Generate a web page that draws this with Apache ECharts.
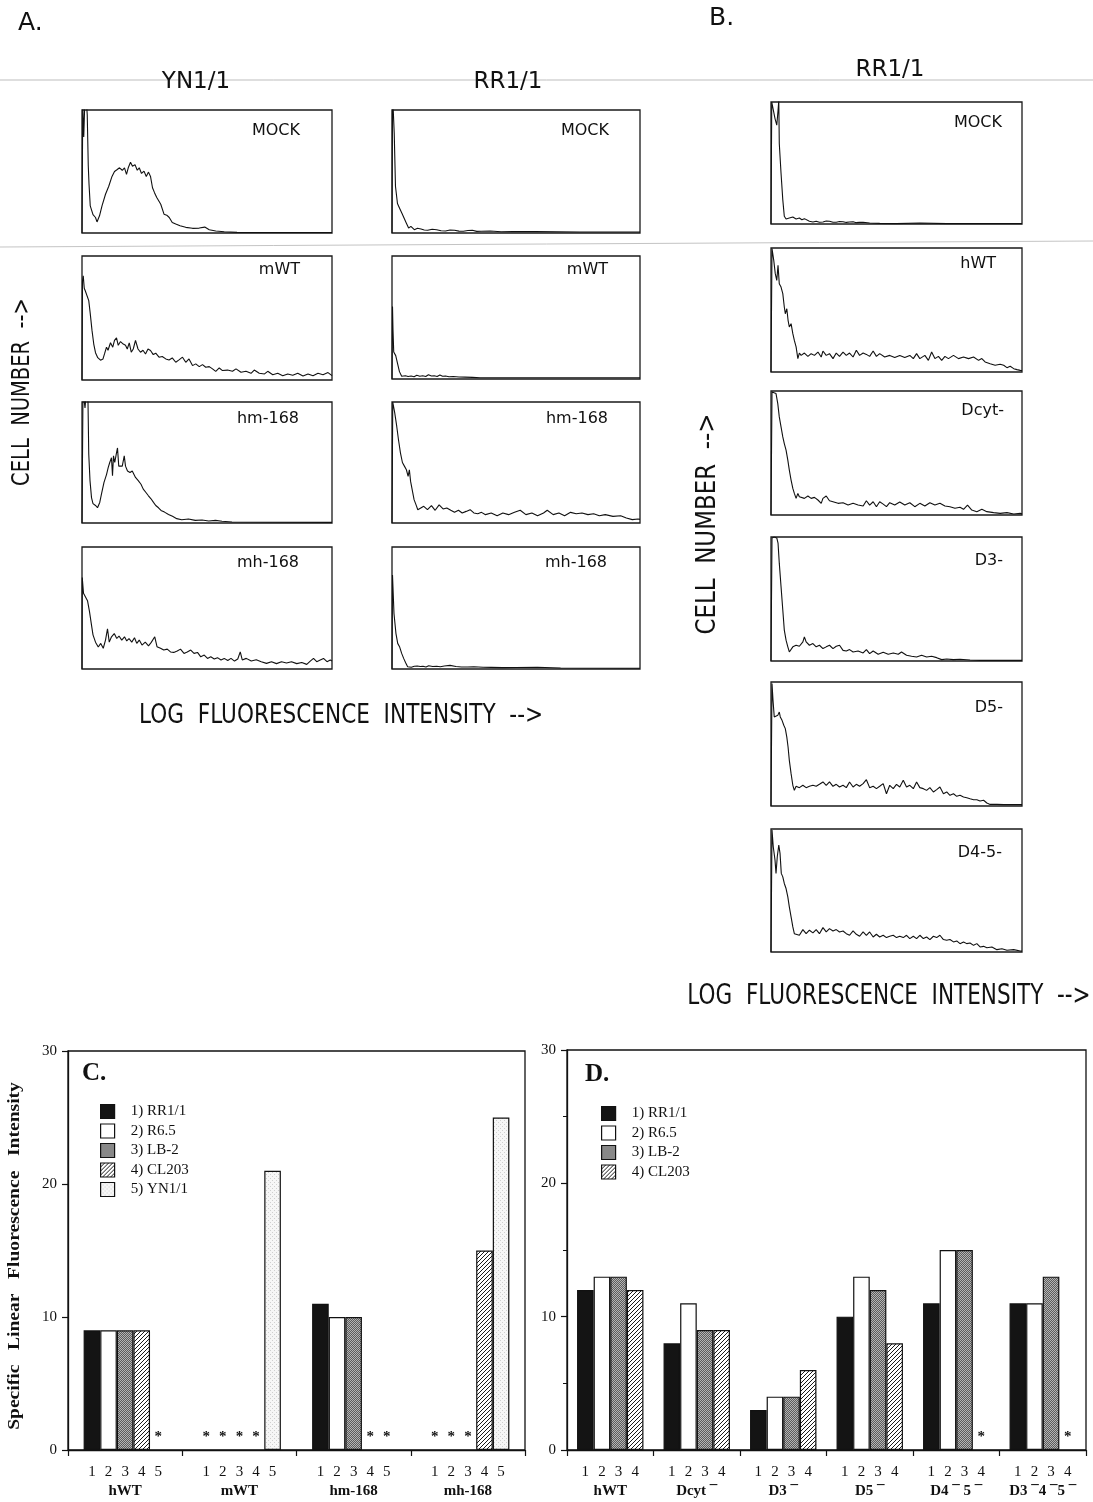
<!DOCTYPE html>
<html><head><meta charset="utf-8">
<script src="https://cdn.jsdelivr.net/npm/echarts@6/dist/echarts.min.js"></script>
<style>html,body{margin:0;padding:0;background:#fff}#chart{width:1093px;height:1502px}</style>
</head><body><div id="chart"></div>
<script>
// ---------------- DATA: flow-cytometry histograms ([log fluorescence %, cell number %]) ----------------
const mockYN = [[0,0],[0.3,105],[0.7,78],[1.1,105],[1.6,112],[2.1,96],[2.5,55],[2.8,40],[3.3,22],[4.4,15],[5.4,12.6],[6.0,9],[7.0,14],[8.0,22],[9.4,31.5],[10.7,38],[12.0,46],[13.0,50],[14.1,51.6],[15.0,53],[16.1,51],[17.0,53],[17.8,47.6],[18.5,53],[19.4,57.5],[20.2,54.3],[21.2,55.6],[22.1,51],[22.9,53],[23.8,48.4],[24.8,50.3],[25.7,46],[26.6,49.5],[27.4,46],[28.2,36.8],[29.0,32.8],[29.9,28.8],[30.7,27.4],[31.5,23.4],[32.1,22],[32.8,15.3],[33.9,14.5],[34.9,12.6],[36.1,8.6],[37.5,7.3],[39.2,5.9],[41.5,4.6],[44.2,3.8],[46.9,4],[49.1,4.8],[50.9,2.7],[53.5,1.6],[56.9,1],[62,0.5],[100,0.4]];
const mwtYN = [[0,0],[0.2,80],[0.5,84],[0.9,74],[1.3,72],[2.0,71],[2.7,64],[3.3,53.5],[4.0,40],[4.7,29],[5.4,22],[6.3,18],[7.4,16],[8.4,17],[9.0,21],[9.8,26.5],[10.4,24],[11.4,30],[12.3,26.5],[13.0,32],[13.8,34],[14.5,28],[15.4,31],[16.5,29],[17.4,28],[18.1,25],[18.9,30],[19.7,22.4],[20.5,25],[21.4,32],[22.4,25],[23.4,22.4],[24.4,24],[25.4,21],[26.4,25],[27.4,23.8],[28.5,20.5],[29.5,21.6],[30.8,18.4],[32.1,19],[33.5,17],[34.8,16.2],[36.1,17.8],[37.5,14.3],[38.8,16.2],[40.2,18.4],[41.5,14.3],[42.8,17],[44.2,11.6],[45.5,13],[46.9,10.8],[48.2,12.4],[49.5,10.3],[50.9,10.8],[52.2,9],[53.5,7],[54.9,9.7],[56.2,7.6],[58.2,8],[60.2,7],[61.6,9],[63.6,6.2],[65.6,7],[67.6,5.4],[68.9,8],[70.9,5.4],[73.0,4.9],[74.3,7],[76.3,4.3],[78.3,5.4],[80.3,3.5],[82.3,4.9],[84.3,3.8],[86.3,5.4],[88.4,3.2],[90.4,4.9],[92.4,3.5],[94.4,5.4],[96.4,4.3],[98.4,6],[100,3.5]];
const hmYN = [[0,0],[0.4,110],[1.2,95],[1.8,110],[2.4,100],[2.7,57],[3.2,35],[3.8,21],[4.4,16],[5.4,14.5],[6.2,12.6],[7.1,17],[7.8,24],[8.8,33.6],[9.8,40],[10.5,46],[11.1,50],[11.8,54],[12.2,39],[12.6,55.5],[13.1,50],[13.7,57],[14.2,62],[14.7,47],[15.4,48.6],[16.1,47],[16.9,55.5],[17.4,47],[18.2,43],[19.2,41.8],[20.1,43],[20.9,43.7],[21.4,37.7],[22.5,35],[23.6,32],[24.5,28],[25.5,25.4],[26.5,22.7],[27.6,20],[28.6,17],[29.5,14.5],[30.6,12.6],[31.6,10.4],[33.0,9],[34.6,7],[36.2,5.5],[37.9,3.6],[39.9,2.7],[42.6,3.3],[45.3,2.2],[48,2.5],[50.7,1.6],[53.4,2.2],[56,1.4],[60,0.8],[100,0.5]];
const mhYN = [[0,0],[0.1,75],[0.6,62],[1.3,60.5],[2.2,56],[3.0,47],[3.8,36],[4.4,28],[5.4,22],[6.5,18],[7.5,21],[8.5,17],[9.4,23.7],[10.2,33],[10.9,22],[11.8,26.4],[12.9,29],[13.9,25],[14.8,27],[15.9,23.7],[17.0,26.4],[17.9,23],[18.8,25],[19.9,22],[21.0,25.6],[21.9,21],[22.9,23.7],[24.0,19.6],[25.3,22],[26.6,19],[27.7,21.8],[29.1,26.4],[30.0,18.3],[31.4,17],[32.7,15.5],[34.1,16.3],[35.4,14],[36.7,13.6],[38.1,14.7],[39.4,16.3],[40.8,12.8],[42.1,14],[43.5,15.5],[44.8,12.8],[46.2,13.6],[47.5,10],[48.9,11.4],[50.2,8.7],[51.5,10],[52.9,8.2],[54.2,9.3],[55.6,7.4],[56.9,8.7],[58.3,7],[59.6,8.7],[61.0,6.5],[62.3,8.2],[63.3,14],[64.1,7.4],[65.7,8.7],[67.7,6.5],[69.7,7.6],[71.7,6],[73.8,4.6],[75.8,6],[77.8,4.4],[79.8,6],[81.8,4.9],[83.8,6],[85.9,4.4],[87.9,5.4],[89.9,3.8],[91.3,6.5],[92.6,8.7],[93.9,6],[95.3,7.4],[96.6,8.7],[98.0,6],[99.3,7.4],[100,6.5]];
const mockRR = [[0,0],[0.2,105],[0.5,100],[0.9,81],[1.4,38],[2.2,24],[3.1,20],[4.0,16],[4.9,12],[5.8,8],[6.7,4],[7.6,5.4],[9.0,2.7],[10.3,3.8],[11.7,3.2],[13.0,2.4],[14.4,2.2],[16.2,3.0],[18.0,2.7],[19.8,1.8],[21.6,1.6],[23.4,2.4],[25.2,2.2],[27.0,1.5],[28.8,1.4],[30.6,2.0],[32.4,2.2],[34.2,1.3],[36.0,1.4],[39.6,1.6],[44,1.0],[48.6,1.1],[57.7,1.1],[75.7,0.8],[100,0.8]];
const mwtRR = [[0,0],[0.2,59],[0.4,40],[0.7,22],[1.1,21],[1.5,19],[2.2,13],[3.0,6],[3.9,2.2],[5.4,2.7],[6.5,2.0],[7.7,2.4],[8.9,1.8],[10,3.0],[11.2,2.2],[12.4,2.6],[13.6,2.0],[14.7,3.5],[15.9,2.4],[17,2.6],[18.2,2.0],[19.3,3.3],[20.4,2.2],[21.6,2.4],[23,1.8],[24.7,2.0],[27,1.6],[29.4,1.5],[32.5,1.3],[35.5,1],[100,1]];
const hmRR = [[0,0],[0.3,100],[1.1,91],[1.9,80],[2.6,69],[3.4,58],[4.2,50],[5.0,47],[5.8,44],[6.5,38.6],[7.0,44],[7.5,34.4],[8.1,33],[8.9,19.3],[9.7,15],[10.4,11],[11.2,12.4],[12.8,13.8],[14.3,11],[15.9,14.3],[17.4,10.5],[19.0,15],[20.6,11.6],[22.1,12.4],[23.7,10.5],[25.2,8.8],[26.8,10.5],[28.3,8.3],[29.9,9.6],[31.5,11],[33.0,8.3],[34.6,7.7],[36.1,8.8],[37.7,6.9],[40.0,8.3],[42.4,6],[44.7,8.3],[47.0,6.9],[49.4,8.8],[51.7,10.5],[54.0,6.9],[56.4,8.3],[58.7,6],[61.1,8.3],[62.6,10.5],[65.0,6.9],[67.3,8.3],[69.6,6],[72.0,8.8],[74.3,7.7],[76.6,8.3],[79.0,6.9],[81.3,7.7],[83.6,6],[86.0,6.9],[89.1,5.5],[92.2,6],[94.5,4.1],[96.9,2.8],[99.2,3.3],[100,3]];
const mhRR = [[0,0],[0.2,77],[0.8,45.5],[1.6,29],[2.3,21],[3.1,18],[3.9,12.8],[4.7,8.7],[5.5,5.2],[6.3,1.9],[7.8,1.4],[9.0,2.2],[10.2,2.5],[11.4,2.0],[12.5,2.2],[13.7,1.6],[14.8,2.7],[16.4,2.0],[18.0,2.2],[19.5,1.8],[21.1,2.4],[23.4,3.0],[25.8,2.0],[28,1.7],[30.5,1.6],[33,1.8],[36.7,1.4],[40,1.3],[44.5,1.1],[50,1.2],[58.6,1.4],[68,0.8],[100,0.6]];
const mockB = [[0,0],[0.3,100],[0.9,99],[1.6,86.4],[2.3,81],[2.8,93],[3.1,101],[3.3,66],[4.0,41.6],[4.7,19.8],[5.3,6.3],[6.0,4.1],[7.3,4.9],[8.7,5.7],[10.0,4.1],[11.3,4.9],[12.3,3.5],[13.3,4.4],[15.3,2.2],[16.7,1.6],[18.0,2.2],[19.3,1.4],[20.7,1.6],[22,2.4],[23.3,2.2],[24.7,1.4],[26,1.4],[27.3,2.0],[28.7,1.9],[30,1.3],[31.3,1.6],[32.7,1.9],[34,1.1],[35.3,1.3],[36.7,1.4],[39.3,0.8],[43.3,0.5],[50,0.3],[59.3,0.8],[70,0.3],[100,0.3]];
const hwtB = [[0,0],[0.4,99.5],[1.1,90],[1.7,79.3],[2.3,73.9],[2.8,86],[3.3,71.2],[4.0,68.5],[4.7,63.2],[5.3,52.4],[5.7,47],[6.3,51],[6.8,41.7],[7.3,36.3],[8.0,39],[8.7,30.9],[9.3,25.5],[10.0,20.2],[10.7,10.8],[11.3,15.3],[12.0,13.4],[13.3,15.3],[14.7,12.6],[16.0,14.8],[17.3,13.4],[18.7,16.1],[20.0,12.1],[20.7,16.9],[22.0,13.4],[23.3,14.8],[24.7,10.8],[26.0,15.3],[27.3,12.6],[28.7,16.1],[30.0,13.4],[31.3,15.3],[32.7,12.1],[34.0,17.5],[35.3,13.4],[36.7,15.3],[38.0,14.2],[39.3,12.6],[40.7,16.9],[42.0,12.6],[43.3,14.8],[45.3,12.1],[47.3,13.4],[49.3,11.6],[51.3,13.4],[53.3,11.6],[55.3,13.4],[56.7,10.8],[58.0,14.8],[59.3,10.8],[61.3,13.4],[62.7,9.4],[64.0,16.1],[65.3,10.8],[66.7,12.6],[68.0,9.4],[69.3,12.6],[70.7,10.8],[72.7,13.4],[74.7,10.8],[76.7,12.1],[78.7,10.8],[80.7,12.1],[82.7,9.4],[84.0,10.8],[85.3,8.1],[87.3,6.7],[89.3,5.4],[91.3,6.2],[92.7,5.4],[94.0,3.5],[95.3,4.6],[96.7,2.7],[98.0,1.9],[99.3,1.3],[100,1.2]];
const dcytB = [[0,0],[0.4,99.2],[1.1,100],[2.0,97.9],[2.7,89.8],[3.3,79.1],[4.0,71],[4.7,63],[5.3,57.6],[6.0,52.3],[6.7,44.2],[7.3,36.2],[8.0,28.2],[8.7,21.4],[9.3,17.4],[10.0,13.4],[10.7,17.4],[11.3,14.7],[12.0,16.1],[13.3,13.4],[14.7,15.3],[16.0,13.4],[17.3,14.2],[18.7,12.1],[20.0,9.4],[20.7,13.4],[22.0,15.3],[23.3,11.5],[24.7,10.7],[26.7,9.4],[28.7,9.9],[30.7,8.0],[32.7,9.4],[34.7,8.0],[36.7,7.2],[38.0,11.5],[39.3,8.0],[40.7,10.7],[42.0,6.7],[43.3,10.7],[44.7,8.8],[46.0,6.7],[47.3,9.9],[49.3,8.0],[51.3,10.5],[53.3,8.0],[55.3,9.9],[57.3,6.7],[59.3,9.4],[61.3,7.2],[63.3,9.9],[65.3,8.0],[67.3,9.4],[69.3,7.2],[71.3,6.7],[73.3,5.4],[75.3,6.2],[76.7,4.6],[78.3,8.0],[80.0,4.0],[82.0,2.7],[84.0,4.6],[86.0,2.7],[88.7,1.9],[91.3,1.3],[94.0,1.9],[96.7,0.8],[99.3,1.3],[100,1.0]];
const d3B = [[0,0],[0.4,99.2],[1.3,100],[2.3,99.2],[2.8,95.1],[3.3,78.9],[4.0,60],[4.7,41.1],[5.3,24.9],[6.0,16.8],[6.7,11.4],[7.3,7.3],[8.0,8.6],[8.7,11.4],[10.0,12.7],[11.3,11.9],[12.7,15.4],[13.3,19.5],[14.0,15.4],[15.3,12.7],[16.7,14.1],[18.0,11.4],[19.3,12.7],[20.7,10],[22.0,11.4],[23.3,12.7],[24.7,10],[26.0,11.9],[27.3,12.7],[28.7,8.6],[30.0,8.1],[31.3,9.2],[32.7,7.3],[34.7,8.1],[36.7,6.5],[38.0,9.2],[39.3,5.9],[40.7,8.1],[42.7,5.4],[44.7,7.0],[46.7,5.4],[48.7,6.5],[50.7,5.4],[52.0,7.3],[54.0,4.6],[56.0,3.8],[58.0,3.2],[60.0,4.6],[62.0,3.2],[64.0,3.8],[66.0,2.7],[68.0,1.1],[70.0,1.6],[72.7,1.1],[75.3,1.4],[79.3,0.8],[83.3,0.5],[100,0.5]];
const d5B = [[0,0],[0.4,98.7],[0.8,85.2],[1.3,71.8],[2.0,70.4],[2.7,73.1],[3.3,75.8],[3.7,71.8],[4.4,69.1],[5.1,65.1],[5.7,62.4],[6.3,55.6],[6.8,47.6],[7.3,36.8],[8.0,26.1],[8.7,16.7],[9.3,12.6],[10.0,15.9],[11.3,14.8],[12.7,16.7],[14.0,14.8],[15.3,15.9],[16.7,16.7],[18.0,15.9],[19.3,17.5],[20.7,19.4],[22.0,16.7],[23.3,19.4],[24.7,15.9],[26.0,17.5],[27.3,15.3],[28.7,16.7],[30.0,14.8],[31.3,19.4],[32.7,15.3],[34.0,17.5],[35.3,15.9],[36.7,18.0],[38.0,21.2],[39.3,14.8],[40.7,15.9],[42.0,14.0],[43.3,15.9],[44.7,18.0],[46.0,9.9],[47.3,16.7],[48.7,14.0],[50.0,17.5],[51.3,15.3],[52.7,20.7],[54.0,15.3],[55.3,16.7],[56.7,14.0],[58.0,19.4],[59.3,14.8],[60.7,14.0],[62.0,12.6],[63.3,14.8],[64.7,11.3],[66.0,13.2],[67.3,15.3],[68.7,9.9],[70.0,11.3],[71.3,8.6],[72.7,9.9],[74.0,7.8],[75.3,8.6],[76.7,7.3],[78.0,6.7],[79.3,5.9],[80.7,5.1],[82.0,5.1],[83.3,4.0],[84.7,4.6],[85.3,5.9],[86.0,2.4],[87.3,1.3],[90.0,1.3],[92.7,1.1],[96.7,1.1],[100,1.1]];
const d45B = [[0,0],[0.4,99.2],[0.9,85.6],[1.6,74.7],[2.0,63.9],[2.5,77.4],[3.1,87.0],[3.6,80.2],[4.1,63.9],[4.7,61.1],[5.3,55.7],[6.0,51.6],[6.7,44.8],[7.3,36.7],[8.0,28.5],[8.7,20.4],[9.3,14.9],[10.0,15.5],[11.3,13.6],[12.7,18.2],[14.0,14.9],[15.3,17.7],[16.7,15.5],[18.0,18.2],[19.3,14.9],[20.7,19.8],[22.0,16.3],[23.3,19.0],[24.7,17.1],[26.0,18.2],[27.3,16.3],[28.7,17.1],[30.0,14.9],[31.3,13.6],[32.7,17.1],[34.0,14.4],[35.3,12.8],[36.7,16.3],[38.0,13.6],[39.3,16.3],[40.7,12.2],[42.0,14.4],[43.3,12.2],[44.7,13.6],[46.0,11.7],[47.3,12.8],[48.7,13.6],[50.0,11.7],[51.3,12.8],[52.7,11.7],[54.0,13.6],[55.3,10.9],[56.7,12.8],[58.0,10.9],[59.3,13.6],[60.7,10.9],[62.0,12.2],[63.3,10.1],[64.7,12.8],[66.0,11.7],[67.3,13.6],[68.7,10.1],[70.0,9.5],[71.3,10.1],[72.7,8.2],[74.0,9.0],[75.3,6.8],[76.7,8.2],[78.0,6.8],[79.3,7.3],[80.7,5.4],[82.0,6.8],[83.3,4.1],[84.7,4.6],[86.0,3.5],[88.0,4.1],[90.0,1.9],[92.0,2.7],[94.0,1.4],[96.7,1.9],[99.3,0.8],[100,0.8]];

// ---------------- DATA: bar charts (null = not bound, marked *) ----------------
const cCategories = ['hWT', 'mWT', 'hm-168', 'mh-168'];
const cSeriesNames = ['1) RR1/1', '2) R6.5', '3) LB-2', '4) CL203', '5) YN1/1'];
const cRR11  = [9, null, 11, null];
const cR65   = [9, null, 10, null];
const cLB2   = [9, null, 10, null];
const cCL203 = [9, null, null, 15];
const cYN11  = [null, 21, null, 25];

const dCategories = ['hWT', 'Dcyt \u00af', 'D3 \u00af', 'D5 \u00af', 'D4 \u00af 5 \u00af', 'D3 \u00af4 \u00af5 \u00af'];
const dSeriesNames = ['1) RR1/1', '2) R6.5', '3) LB-2', '4) CL203'];
const dRR11  = [12, 8, 3, 10, 11, 11];
const dR65   = [13, 11, 4, 13, 15, 11];
const dLB2   = [13, 9, 4, 12, 15, 13];
const dCL203 = [12, 9, 6, 8, null, null];

const yTicks = [0, 10, 20, 30];

// ---------------- LAYOUT ----------------
const SANS = '"DejaVu Sans", sans-serif';
const SERIF = '"Liberation Serif", "Times New Roman", serif';

const histLayout = [
  {data: mockYN, label: 'MOCK',   left: 82,  top: 110, width: 250, height: 123, lx: 300, ly: 131},
  {data: mwtYN,  label: 'mWT',    left: 82,  top: 256, width: 250, height: 124, lx: 300, ly: 270},
  {data: hmYN,   label: 'hm-168', left: 82,  top: 402, width: 250, height: 121, lx: 299, ly: 419},
  {data: mhYN,   label: 'mh-168', left: 82,  top: 547, width: 250, height: 122, lx: 299, ly: 563},
  {data: mockRR, label: 'MOCK',   left: 392, top: 110, width: 248, height: 123, lx: 609, ly: 131},
  {data: mwtRR,  label: 'mWT',    left: 392, top: 256, width: 248, height: 123, lx: 608, ly: 270},
  {data: hmRR,   label: 'hm-168', left: 392, top: 402, width: 248, height: 121, lx: 608, ly: 419},
  {data: mhRR,   label: 'mh-168', left: 392, top: 547, width: 248, height: 122, lx: 607, ly: 563},
  {data: mockB,  label: 'MOCK',   left: 771, top: 102, width: 251, height: 122, lx: 1002, ly: 123},
  {data: hwtB,   label: 'hWT',    left: 771, top: 248, width: 251, height: 124, lx: 996, ly: 264},
  {data: dcytB,  label: 'Dcyt-',  left: 771, top: 391, width: 251, height: 124, lx: 1004, ly: 411},
  {data: d3B,    label: 'D3-',    left: 771, top: 537, width: 251, height: 124, lx: 1003, ly: 561},
  {data: d5B,    label: 'D5-',    left: 771, top: 682, width: 251, height: 124, lx: 1003, ly: 708},
  {data: d45B,   label: 'D4-5-',  left: 771, top: 829, width: 251, height: 123, lx: 1002, ly: 853}
];

function pattern(w, h, draw) {
  const c = document.createElement('canvas');
  c.width = w; c.height = h;
  draw(c.getContext('2d'));
  return {image: c, repeat: 'repeat'};
}
const fillBlack = '#141414';
const fillWhite = '#ffffff';
const fillGray = pattern(2, 2, g => { g.fillStyle = '#5c5c5c'; g.fillRect(0,0,2,2); g.fillStyle = '#b4b4b4'; g.fillRect(0,0,1,1); g.fillRect(1,1,1,1); });
const fillHatch = pattern(4, 4, g => { g.fillStyle = '#fff'; g.fillRect(0,0,4,4); g.fillStyle = '#1a1a1a'; for (let i = 0; i < 4; i++) g.fillRect(i, 3 - i, 1, 1); });
const fillLight = pattern(4, 4, g => { g.fillStyle = '#f6f6f6'; g.fillRect(0,0,4,4); g.fillStyle = '#cfcfcf'; g.fillRect(0,0,1,1); g.fillRect(2,2,1,1); });

const grids = [], xAxes = [], yAxes = [], series = [], graphics = [];

// histograms
histLayout.forEach((p, i) => {
  grids.push({left: p.left, top: p.top, width: p.width, height: p.height, show: true,
    borderColor: '#1a1a1a', borderWidth: 1.3, backgroundColor: 'transparent'});
  xAxes.push({gridIndex: i, type: 'value', min: 0, max: 100, show: false});
  yAxes.push({gridIndex: i, type: 'value', min: 0, max: 100, show: false});
  series.push({type: 'line', xAxisIndex: i, yAxisIndex: i, data: p.data, symbol: 'none',
    showSymbol: false, clip: true, silent: true,
    lineStyle: {color: '#111', width: 1.1}});
  graphics.push({type: 'text', x: p.lx, y: p.ly, z: 10,
    style: {text: p.label, font: '16px ' + SANS, fill: '#111', align: 'right', verticalAlign: 'middle',
      textAlign: 'right', textVerticalAlign: 'middle'}});
});

// bar charts
const gC = histLayout.length, gD = gC + 1;
const barGrids = [
  {left: 68, top: 1051, width: 457, height: 399},
  {left: 567, top: 1050, width: 519, height: 400}
];
barGrids.forEach(g => grids.push(Object.assign({show: true, borderColor: '#111', borderWidth: 1.3, backgroundColor: 'transparent'}, g)));

function catAxis(gi, cats, nDigits) {
  const digits = Array.from({length: nDigits}, (_, k) => '{d|' + (k + 1) + '}').join('');
  return {gridIndex: gi, type: 'category', data: cats,
    axisLine: {show: true, lineStyle: {color: '#111', width: 1.3}},
    axisTick: {show: true, length: 6, lineStyle: {color: '#111', width: 1.2}},
    axisLabel: {interval: 0, margin: 13, hideOverlap: false,
      formatter: v => digits + '\n{n|' + v + '}',
      rich: {
        d: {width: 16.6, align: 'center', fontSize: 15, fontFamily: SERIF, color: '#111', lineHeight: 19},
        n: {align: 'center', fontSize: 15, fontWeight: 'bold', fontFamily: SERIF, color: '#111', lineHeight: 19}
      }}};
}
function valAxis(gi, minor) {
  return {gridIndex: gi, type: 'value', min: 0, max: 30, interval: 10,
    splitLine: {show: false},
    axisLine: {show: true, lineStyle: {color: '#111', width: 1.3}},
    axisTick: {show: true, length: 6, lineStyle: {color: '#111', width: 1.2}},
    minorTick: {show: !!minor, splitNumber: 2, length: 4, lineStyle: {color: '#111', width: 1}},
    axisLabel: {margin: 11, fontSize: 15, fontFamily: SERIF, color: '#111',
      formatter: v => yTicks.indexOf(v) >= 0 ? String(v) : ''}};
}
xAxes.push(catAxis(gC, cCategories, 5), catAxis(gD, dCategories, 4));
yAxes.push(valAxis(gC, false), valAxis(gD, true));

function barData(arr) {
  return arr.map(v => v == null ? {
    value: 0, itemStyle: {borderWidth: 0, color: 'rgba(0,0,0,0)'},
    label: {show: true, formatter: '*', position: 'top', distance: 5,
      fontSize: 15, fontWeight: 'bold', fontFamily: SERIF, color: '#111'}
  } : v);
}
const fills = [fillBlack, fillWhite, fillGray, fillHatch, fillLight];
[cRR11, cR65, cLB2, cCL203, cYN11].forEach((arr, k) => {
  series.push({type: 'bar', name: cSeriesNames[k], xAxisIndex: gC, yAxisIndex: gC,
    data: barData(arr), barWidth: 16.6, barGap: '0%',
    itemStyle: {color: fills[k], borderColor: '#111', borderWidth: 1.2}});
});
[dRR11, dR65, dLB2, dCL203].forEach((arr, k) => {
  series.push({type: 'bar', name: dSeriesNames[k], xAxisIndex: gD, yAxisIndex: gD,
    data: barData(arr), barWidth: 16.6, barGap: '0%',
    itemStyle: {color: fills[k], borderColor: '#111', borderWidth: 1.2}});
});

// texts & rules
function txt(text, x, y, font, opts) {
  const o = Object.assign({align: 'center', vAlign: 'middle'}, opts || {});
  const el = {type: 'text', x: x, y: y, z: 10,
    style: {text: text, font: font, fill: '#111', align: o.align, verticalAlign: o.vAlign,
      textAlign: o.align, textVerticalAlign: o.vAlign}};
  if (o.rotation) el.rotation = o.rotation;
  if (o.scaleX) el.scaleX = o.scaleX;
  if (o.scaleY) el.scaleY = o.scaleY;
  return el;
}
graphics.push(
  {type: 'line', z: 1, shape: {x1: 0, y1: 80, x2: 1093, y2: 80}, style: {stroke: '#bdbdbd', lineWidth: 1}},
  {type: 'line', z: 1, shape: {x1: 0, y1: 247, x2: 1093, y2: 241}, style: {stroke: '#c4c4c4', lineWidth: 1}},
  txt('A.', 18, 23, '25px ' + SANS, {align: 'left'}),
  txt('B.', 709, 18, '25px ' + SANS, {align: 'left'}),
  txt('YN1/1', 196, 82, '23px ' + SANS),
  txt('RR1/1', 508, 82, '23px ' + SANS),
  txt('RR1/1', 890, 70, '23px ' + SANS),
  txt('CELL  NUMBER  -->', 22, 392, '25px ' + SANS, {rotation: Math.PI / 2, scaleX: 0.78}),
  txt('CELL  NUMBER  -->', 708, 524, '27px ' + SANS, {rotation: Math.PI / 2, scaleX: 0.85}),
  txt('LOG  FLUORESCENCE  INTENSITY  -->', 341, 716, '27px ' + SANS, {scaleX: 0.8}),
  txt('LOG  FLUORESCENCE  INTENSITY  -->', 889, 997, '28px ' + SANS, {scaleX: 0.77}),
  txt('C.', 82, 1074, 'bold 25px ' + SERIF, {align: 'left'}),
  txt('D.', 585, 1075, 'bold 25px ' + SERIF, {align: 'left'}),
  txt('Specific   Linear   Fluorescence   Intensity', 15, 1256, 'bold 17px ' + SERIF, {rotation: Math.PI / 2, scaleX: 1.15})
);

const legendBase = {orient: 'vertical', icon: 'rect', itemWidth: 14, itemHeight: 14, itemGap: 2.5,
  selectedMode: false,
  itemStyle: {borderColor: '#111', borderWidth: 1.2},
  textStyle: {fontFamily: SERIF, fontSize: 15, color: '#111', lineHeight: 17},
  formatter: n => '   ' + n};

const option = {
  animation: false,
  backgroundColor: '#fff',
  grid: grids,
  xAxis: xAxes,
  yAxis: yAxes,
  series: series,
  legend: [
    Object.assign({}, legendBase, {data: cSeriesNames, left: 95, top: 1098}),
    Object.assign({}, legendBase, {data: dSeriesNames, left: 596, top: 1100})
  ],
  graphic: graphics
};

const chart = echarts.init(document.getElementById('chart'), null, {renderer: 'canvas'});
chart.setOption(option);
</script></body></html>
